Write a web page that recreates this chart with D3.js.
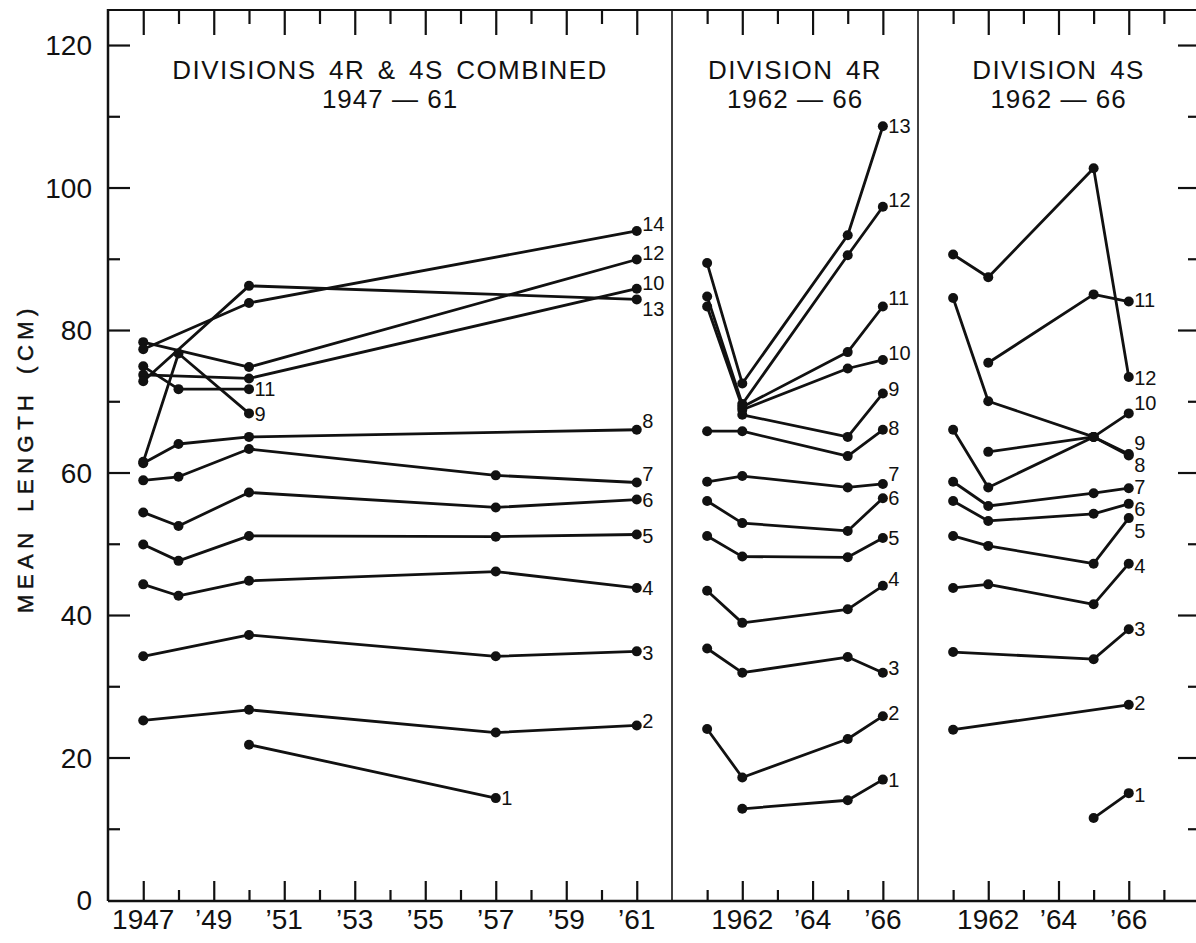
<!DOCTYPE html>
<html>
<head>
<meta charset="utf-8">
<script src="https://cdn.jsdelivr.net/npm/d3@7"></script>
<style>
  body { margin: 0; background: #fff; }
  svg { display: block; font-family: "Liberation Sans", Arial, sans-serif; }
</style>
</head>
<body>
<svg id="chart" width="1196" height="943"></svg>
<script>
// ---- Sampling years for each panel ----
const yearsCombined = [1947, 1948, 1950, 1957, 1961];
const years4R = [1961, 1962, 1965, 1966];
const years4S = [1961, 1962, 1965, 1966];

// ---- Mean length (cm) by age; each row: [age, value per sampling year], null = no sample ----
const lengthsCombined = [
  [1,  null, null, 21.8, 14.3, null],
  [2,  25.2, null, 26.7, 23.5, 24.5],
  [3,  34.2, null, 37.2, 34.2, 34.9],
  [4,  44.3, 42.7, 44.8, 46.1, 43.8],
  [5,  49.9, 47.6, 51.1, 51.0, 51.3],
  [6,  54.4, 52.5, 57.2, 55.1, 56.2],
  [7,  58.9, 59.4, 63.3, 59.6, 58.6],
  [8,  61.3, 64.0, 65.0, null, 66.0],
  [9,  61.5, 76.7, 68.3, null, null],
  [10, 73.7, null, 73.2, null, 85.8],
  [11, 74.9, 71.7, 71.7, null, null],
  [12, 78.3, null, 74.8, null, 89.9],
  [13, 72.8, null, 86.2, null, 84.3],
  [14, 77.3, null, 83.8, null, 93.9]
];
const lengths4R = [
  [1,  null, 12.8, 14.0, 16.9],
  [2,  24.0, 17.2, 22.6, 25.8],
  [3,  35.3, 31.9, 34.1, 31.9],
  [4,  43.4, 38.9, 40.8, 44.1],
  [5,  51.1, 48.2, 48.1, 50.8],
  [6,  56.0, 52.9, 51.8, 56.4],
  [7,  58.7, 59.5, 57.9, 58.4],
  [8,  65.8, 65.8, 62.3, 66.0],
  [9,  null, 68.1, 65.0, 71.1],
  [10, null, 68.8, 74.6, 75.8],
  [11, 83.3, 69.2, 76.9, 83.3],
  [12, 84.7, 69.6, 90.5, 97.3],
  [13, 89.4, 72.5, 93.3, 108.6]
];
const lengths4S = [
  [1,  null, null, 11.5, 15.0],
  [2,  23.9, null, null, 27.4],
  [3,  34.8, null, 33.8, 38.0],
  [4,  43.8, 44.3, 41.5, 47.2],
  [5,  51.1, 49.7, 47.2, 53.6],
  [6,  56.0, 53.2, 54.2, 55.6],
  [7,  58.7, 55.3, 57.1, 57.8],
  [8,  null, 62.9, 65.0, 62.4],
  [9,  84.5, 70.0, 65.0, 62.6],
  [10, 66.0, 57.9, 65.0, 68.3],
  [11, null, 75.4, 85.0, 84.0],
  [12, 90.6, 87.4, 102.7, 73.4]
];

// ---- Axis tick labels ----
const yTickValues = [0, 20, 40, 60, 80, 100, 120];
const xLabelYearsCombined = [1947, 1949, 1951, 1953, 1955, 1957, 1959, 1961];
const xLabelsCombined = ["1947", "\u201949", "\u201951", "\u201953", "\u201955", "\u201957", "\u201959", "\u201961"];
const xLabelYears1962 = [1962, 1964, 1966];
const xLabels1962 = ["1962", "\u201964", "\u201966"];

// ---- Panel titles ----
const titleCombined = ["DIVISIONS 4R & 4S COMBINED", "1947 \u2014 61"];
const title4R = ["DIVISION 4R", "1962 \u2014 66"];
const title4S = ["DIVISION 4S", "1962 \u2014 66"];

// ---- Layout: vertical nudge (px) of each end label relative to its point ----
const nudgeCombined = {14: -7, 12: -7, 10: -6, 13: 9, 8: -9, 7: -9, 2: -5, 5: 1, 3: 1};
const nudge4R = {12: -7, 11: -9, 10: -7.5, 9: -5, 8: -2, 7: -10, 4: -7, 3: -5, 2: -3};
const nudge4S = {11: -2, 12: 1, 10: -11, 9: -11, 8: 9.4, 7: -1.2, 6: 5.1, 5: 12.9, 4: 2, 2: -2, 1: 2};

const svg = d3.select("#chart");
const FRAME_TOP = 10, FRAME_BOTTOM = 900, FRAME_LEFT = 108, FRAME_RIGHT = 1199;

const y = d3.scaleLinear().domain([0, 125]).range([FRAME_BOTTOM, 9.4]);

const panels = [
  { title: titleCombined, years: yearsCombined, rows: lengthsCombined, nudge: nudgeCombined,
    x: d3.scaleLinear().domain([1946, 1962]).range([FRAME_LEFT, 672]),
    ticks: d3.range(1947, 1962), major: xLabelYearsCombined, labels: xLabelsCombined },
  { title: title4R, years: years4R, rows: lengths4R, nudge: nudge4R,
    x: d3.scaleLinear().domain([1960, 1967]).range([672, 918]),
    ticks: d3.range(1961, 1967), major: xLabelYears1962, labels: xLabels1962 },
  { title: title4S, years: years4S, rows: lengths4S, nudge: nudge4S,
    x: d3.scaleLinear().domain([1960, 1968]).range([918, FRAME_RIGHT]),
    ticks: d3.range(1961, 1968), major: xLabelYears1962, labels: xLabels1962 }
];

const ink = "#111";

// ---- Y axes: long ticks every 20, short ticks every 10, on both sides ----
const yMinor = d3.range(10, 121, 20);
const yMajor = d3.range(20, 121, 20);
function styleAxis(g) {
  g.select(".domain").remove();
  g.selectAll(".tick line").attr("stroke", ink).attr("stroke-width", 2.2);
  g.selectAll(".tick text").remove();
}
svg.append("g").attr("transform", `translate(${FRAME_LEFT},0)`)
  .call(d3.axisRight(y).tickValues(yMajor).tickSize(22)).call(styleAxis);
svg.append("g").attr("transform", `translate(${FRAME_LEFT},0)`)
  .call(d3.axisRight(y).tickValues(yMinor).tickSize(12)).call(styleAxis);
svg.append("g").attr("transform", `translate(${FRAME_RIGHT},0)`)
  .call(d3.axisLeft(y).tickValues(yMajor).tickSize(21)).call(styleAxis);
svg.append("g").attr("transform", `translate(${FRAME_RIGHT},0)`)
  .call(d3.axisLeft(y).tickValues(yMinor).tickSize(11)).call(styleAxis);

// y tick labels
svg.append("g").selectAll("text").data(yTickValues).join("text")
  .attr("x", 92).attr("y", d => y(d) + 10)
  .attr("text-anchor", "end")
  .attr("font-size", 28).attr("fill", ink)
  .text(d => d);

// y axis title
svg.append("text")
  .attr("transform", `translate(33,${458}) rotate(-90)`)
  .attr("text-anchor", "middle")
  .attr("font-size", 22).attr("letter-spacing", 5.5).attr("word-spacing", 4)
  .attr("fill", ink).attr("stroke", ink).attr("stroke-width", 0.5)
  .text("MEAN LENGTH (CM)");

// ---- Panels ----
panels.forEach(p => {
  const minorYears = p.ticks.filter(t => !p.major.includes(t));
  // bottom ticks point up, top ticks point down
  svg.append("g").attr("transform", `translate(0,${FRAME_BOTTOM})`)
    .call(d3.axisTop(p.x).tickValues(p.major).tickSize(19)).call(styleAxis);
  svg.append("g").attr("transform", `translate(0,${FRAME_BOTTOM})`)
    .call(d3.axisTop(p.x).tickValues(minorYears).tickSize(10)).call(styleAxis);
  svg.append("g").attr("transform", `translate(0,${FRAME_TOP})`)
    .call(d3.axisBottom(p.x).tickValues(p.major).tickSize(25)).call(styleAxis);
  svg.append("g").attr("transform", `translate(0,${FRAME_TOP})`)
    .call(d3.axisBottom(p.x).tickValues(minorYears).tickSize(14)).call(styleAxis);

  // year labels under the axis
  svg.append("g").selectAll("text").data(p.major).join("text")
    .attr("x", d => p.x(d)).attr("y", 929)
    .attr("text-anchor", "middle")
    .attr("font-size", 28).attr("fill", ink)
    .text((d, i) => p.labels[i]);

  // two-line title centred in the panel
  const [x0, x1] = p.x.range();
  const cx = (x0 + x1) / 2;
  svg.append("text").attr("x", cx).attr("y", 79)
    .attr("text-anchor", "middle").attr("font-size", 26)
    .attr("letter-spacing", 1.4).attr("word-spacing", 4).attr("fill", ink)
    .text(p.title[0]);
  svg.append("text").attr("x", cx).attr("y", 108)
    .attr("text-anchor", "middle").attr("font-size", 26)
    .attr("letter-spacing", 1).attr("fill", ink)
    .text(p.title[1]);

  // one polyline per age class, skipping years with no sample
  const series = p.rows.map(r => ({
    age: r[0],
    pts: p.years.map((yr, i) => ({ yr, v: r[i + 1] })).filter(d => d.v != null)
  }));
  const line = d3.line().x(d => p.x(d.yr)).y(d => y(d.v));
  const g = svg.append("g");
  g.selectAll("path").data(series).join("path")
    .attr("d", s => line(s.pts))
    .attr("fill", "none").attr("stroke", ink)
    .attr("stroke-width", 2.8).attr("stroke-linejoin", "round");
  g.selectAll("circle").data(series.flatMap(s => s.pts)).join("circle")
    .attr("cx", d => p.x(d.yr)).attr("cy", d => y(d.v))
    .attr("r", 5).attr("fill", ink);

  // age label at the last point of each series
  g.selectAll("text").data(series).join("text")
    .attr("x", s => p.x(s.pts[s.pts.length - 1].yr) + 5.5)
    .attr("y", s => y(s.pts[s.pts.length - 1].v) + 7.2 + (p.nudge[s.age] || 0))
    .attr("font-size", 20).attr("fill", ink)
    .text(s => s.age);
});

// ---- Frame and panel dividers ----
const frame = svg.append("g").attr("stroke", ink).attr("fill", "none");
frame.append("line").attr("x1", FRAME_LEFT).attr("x2", FRAME_LEFT)
  .attr("y1", FRAME_TOP - 1).attr("y2", FRAME_BOTTOM + 1).attr("stroke-width", 2.5);
frame.append("line").attr("x1", FRAME_LEFT).attr("x2", FRAME_RIGHT)
  .attr("y1", FRAME_TOP).attr("y2", FRAME_TOP).attr("stroke-width", 2.2);
frame.append("line").attr("x1", FRAME_LEFT).attr("x2", FRAME_RIGHT)
  .attr("y1", FRAME_BOTTOM + 1).attr("y2", FRAME_BOTTOM + 1).attr("stroke-width", 2.6);
frame.append("line").attr("x1", FRAME_RIGHT).attr("x2", FRAME_RIGHT)
  .attr("y1", FRAME_TOP).attr("y2", FRAME_BOTTOM).attr("stroke-width", 2.5);
[672, 918].forEach(xd => {
  frame.append("line").attr("x1", xd).attr("x2", xd)
    .attr("y1", FRAME_TOP).attr("y2", FRAME_BOTTOM).attr("stroke-width", 1.6);
});
</script>
</body>
</html>
